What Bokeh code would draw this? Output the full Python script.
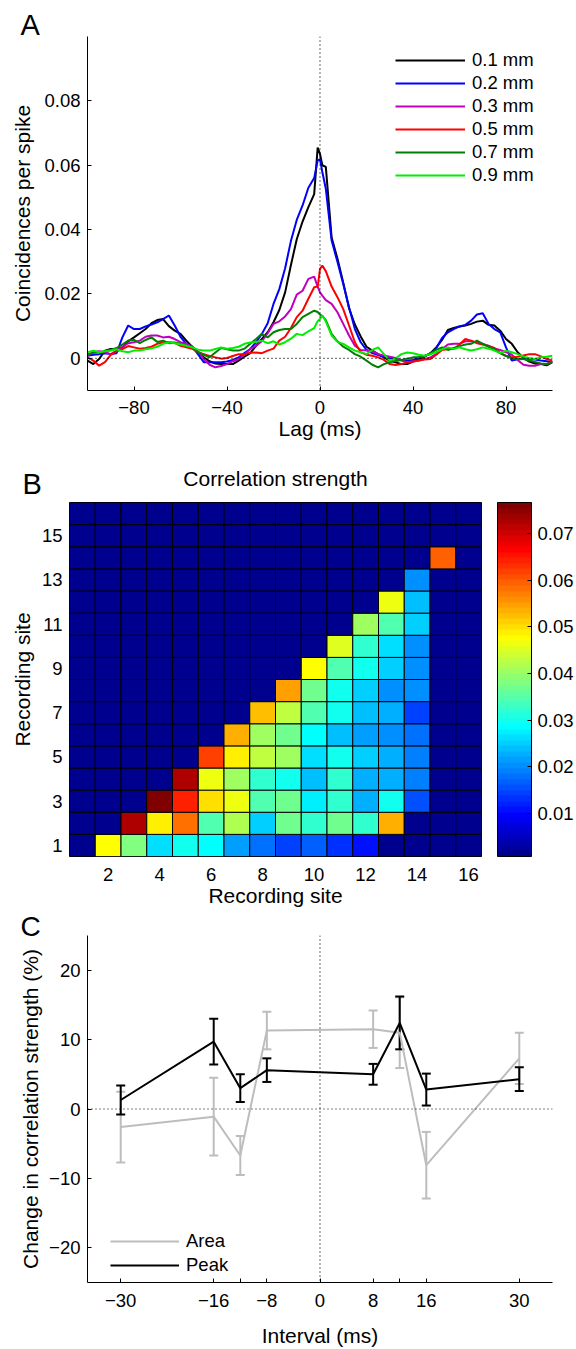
import numpy as np
from bokeh.plotting import figure
from bokeh.models import (ColumnDataSource, Range1d, FixedTicker, Legend, LegendItem, Span, Title,
                          LinearColorMapper, ColorBar, Whisker, TeeHead)
from bokeh.transform import transform
from bokeh.embed import file_html
from bokeh.resources import INLINE

FONT = "Liberation Sans"
TICK = "18.5px"
LABEL = "21px"

# ---------------- Panel A data ----------------
lag_ms = [-100, -97.5, -95, -92.5, -90, -87.5, -85, -82.5, -80, -77.5, -75, -72.5, -70, -67.5, -65, -62.5,
          -60, -57.5, -55, -52.5, -50, -47.5, -45, -42.5, -40, -37.5, -35, -32.5, -30, -27.5, -25, -22.5,
          -20, -17.5, -15, -12.5, -10, -7.5, -5, -2.5, -1, 0, 1, 2.5, 5, 7.5, 10, 12.5, 15, 17.5, 20, 22.5,
          25, 27.5, 30, 32.5, 35, 37.5, 40, 42.5, 45, 47.5, 50, 52.5, 55, 57.5, 60, 62.5, 65, 67.5, 70,
          72.5, 75, 77.5, 80, 82.5, 85, 87.5, 90, 92.5, 95, 97.5, 100]

ccg_01 = [-0.0007, -0.0018, -0.0002, 0.0024, 0.0029, 0.0029, 0.0034, 0.0053, 0.0065, 0.0078, 0.0091, 0.0109,
          0.0119, 0.0122, 0.0100, 0.0086, 0.0076, 0.0055, 0.0036, 0.0019, 0.0003, -0.0009, -0.0016, -0.0018,
          -0.0018, -0.0018, -0.0007, 0.0005, 0.0016, 0.0039, 0.0060, 0.0081, 0.0112, 0.0150, 0.0205, 0.0290,
          0.0370, 0.0425, 0.0470, 0.0510, 0.0655, 0.0635, 0.0600, 0.0595, 0.0375, 0.0310, 0.0235, 0.0155,
          0.0105, 0.0068, 0.0036, 0.0024, 0.0013, 0.0003, -0.0007, -0.0012, -0.0018, -0.0018, -0.0010,
          -0.0002, 0.0005, 0.0016, 0.0034, 0.0057, 0.0088, 0.0094, 0.0099, 0.0102, 0.0107, 0.0114, 0.0117,
          0.0104, 0.0102, 0.0086, 0.0060, 0.0045, 0.0019, 0.0001, -0.0010, -0.0016, -0.0018, -0.0022, -0.0012]

ccg_02 = [0.0008, 0.0011, 0.0013, 0.0016, 0.0013, 0.0016, 0.0065, 0.0102, 0.0091, 0.0091, 0.0099, 0.0105,
          0.0112, 0.0122, 0.0133, 0.0102, 0.0067, 0.0045, 0.0036, 0.0013, -0.0012, -0.0012, -0.0012, -0.0012,
          -0.0010, -0.0005, 0.0003, 0.0016, 0.0029, 0.0050, 0.0076, 0.0109, 0.0169, 0.0215, 0.0280, 0.0365,
          0.0430, 0.0475, 0.0530, 0.0560, 0.0615, 0.0619, 0.0579, 0.0527, 0.0366, 0.0300, 0.0231, 0.0159,
          0.0091, 0.0050, 0.0026, 0.0016, 0.0010, 0.0005, 0.0001, -0.0002, -0.0005, -0.0007, -0.0005,
          0.0003, 0.0008, 0.0013, 0.0031, 0.0063, 0.0081, 0.0091, 0.0099, 0.0104, 0.0117, 0.0136, 0.0140,
          0.0107, 0.0091, 0.0081, 0.0034, -0.0007, -0.0003, -0.0002, -0.0002, -0.0004, -0.0007, -0.0009, -0.0012]

ccg_03 = [0.0008, 0.0019, 0.0022, 0.0019, 0.0013, 0.0024, 0.0036, 0.0047, 0.0050, 0.0055, 0.0067, 0.0071,
          0.0071, 0.0065, 0.0067, 0.0060, 0.0050, 0.0045, 0.0036, 0.0022, -0.0002, -0.0020, -0.0028, -0.0024,
          -0.0018, -0.0009, -0.0002, 0.0011, 0.0029, 0.0039, 0.0053, 0.0078, 0.0107, 0.0115, 0.0130, 0.0153,
          0.0198, 0.0210, 0.0247, 0.0254, 0.0223, 0.0205, 0.0195, 0.0181, 0.0169, 0.0143, 0.0107, 0.0071,
          0.0039, 0.0026, 0.0024, 0.0022, 0.0013, 0.0009, 0.0005, 0.0001, -0.0007, -0.0012, -0.0010,
          -0.0007, -0.0002, 0.0003, 0.0013, 0.0029, 0.0043, 0.0045, 0.0045, 0.0053, 0.0053, 0.0049, 0.0045,
          0.0039, 0.0031, 0.0026, 0.0019, 0.0011, -0.0005, -0.0020, -0.0023, -0.0023, -0.0018, -0.0018, -0.0009]

ccg_05 = [0.0003, -0.0007, -0.0023, -0.0012, 0.0011, 0.0022, 0.0029, 0.0038, 0.0034, 0.0030, 0.0032, 0.0036,
          0.0045, 0.0050, 0.0051, 0.0048, 0.0039, 0.0034, 0.0030, 0.0019, 0.0013, 0.0007, 0.0003, -0.0001,
          0.0001, 0.0007, 0.0013, 0.0013, 0.0017, 0.0018, 0.0016, 0.0024, 0.0030, 0.0055, 0.0067, 0.0094,
          0.0128, 0.0148, 0.0185, 0.0221, 0.0223, 0.0278, 0.0288, 0.0271, 0.0223, 0.0190, 0.0153, 0.0102,
          0.0050, 0.0019, 0.0011, 0.0008, 0.0003, -0.0005, -0.0018, -0.0021, -0.0018, -0.0013, -0.0010,
          -0.0007, -0.0004, -0.0002, 0.0011, 0.0026, 0.0029, 0.0029, 0.0043, 0.0060, 0.0055, 0.0047, 0.0043,
          0.0038, 0.0032, 0.0016, 0.0008, 0.0003, 0.0005, 0.0009, 0.0013, 0.0013, 0.0006, -0.0002, -0.0007]

ccg_07 = [0.0013, 0.0017, 0.0019, 0.0022, 0.0026, 0.0032, 0.0043, 0.0055, 0.0057, 0.0047, 0.0057, 0.0065,
          0.0051, 0.0055, 0.0047, 0.0049, 0.0045, 0.0039, 0.0035, 0.0019, 0.0011, 0.0003, 0.0018, 0.0032,
          0.0028, 0.0024, 0.0024, 0.0030, 0.0045, 0.0060, 0.0076, 0.0065, 0.0081, 0.0088, 0.0091, 0.0091,
          0.0107, 0.0128, 0.0138, 0.0148, 0.0144, 0.0136, 0.0132, 0.0119, 0.0076, 0.0053, 0.0036, 0.0026,
          0.0013, 0.0005, -0.0007, -0.0020, -0.0028, -0.0018, -0.0012, -0.0008, -0.0005, -0.0001, 0.0003,
          0.0003, 0.0007, 0.0016, 0.0026, 0.0034, 0.0026, 0.0032, 0.0038, 0.0043, 0.0045, 0.0055, 0.0045,
          0.0036, 0.0029, 0.0016, 0.0007, 0.0001, -0.0002, -0.0002, -0.0007, -0.0011, -0.0016, -0.0018, -0.0012]

ccg_09 = [0.0019, 0.0024, 0.0019, 0.0022, 0.0024, 0.0028, 0.0022, 0.0019, 0.0024, 0.0024, 0.0028, 0.0031,
          0.0036, 0.0045, 0.0050, 0.0047, 0.0043, 0.0039, 0.0034, 0.0027, 0.0024, 0.0024, 0.0029, 0.0034,
          0.0030, 0.0032, 0.0036, 0.0045, 0.0049, 0.0051, 0.0055, 0.0047, 0.0053, 0.0043, 0.0050, 0.0061,
          0.0076, 0.0072, 0.0084, 0.0094, 0.0115, 0.0122, 0.0133, 0.0115, 0.0071, 0.0051, 0.0045, 0.0034,
          0.0024, 0.0019, 0.0013, 0.0026, 0.0034, 0.0013, -0.0007, -0.0001, 0.0013, 0.0018, 0.0016, 0.0011,
          0.0008, 0.0013, 0.0019, 0.0028, 0.0034, 0.0029, 0.0034, 0.0028, 0.0024, 0.0028, 0.0034, 0.0030,
          0.0024, 0.0016, 0.0024, 0.0019, 0.0013, 0.0005, 0.0001, -0.0002, 0.0003, 0.0005, 0.0008]

dist_labels = ["0.1 mm", "0.2 mm", "0.3 mm", "0.5 mm", "0.7 mm", "0.9 mm"]
dist_colors = ["#000000", "#0000ff", "#bf00bf", "#ff0000", "#008000", "#00ee00"]
ccg_series = [ccg_01, ccg_02, ccg_03, ccg_05, ccg_07, ccg_09]
a_xticks = [-80, -40, 0, 40, 80]
a_yticks = [0, 0.02, 0.04, 0.06, 0.08]

# ---------------- Panel B data ----------------
BG = 0.0007
corr_rows = [  # row index = recording site (y) 1..16, columns = recording site (x) 1..16
    [BG, 0.0471, 0.0376, 0.0265, 0.0292, 0.0281, 0.0220, 0.0174, 0.0144, 0.0167, 0.0129, 0.0102, BG, BG, BG, BG],
    [BG, BG, 0.0720, 0.0482, 0.0577, 0.0351, 0.0417, 0.0254, 0.0364, 0.0316, 0.0364, 0.0316, 0.0531, BG, BG, BG],
    [BG, BG, BG, 0.0767, 0.0648, 0.0505, 0.0459, 0.0351, 0.0364, 0.0275, 0.0316, 0.0227, 0.0292, 0.0159, BG, BG],
    [BG, BG, BG, BG, 0.0720, 0.0459, 0.0410, 0.0316, 0.0292, 0.0239, 0.0316, 0.0227, 0.0227, 0.0186, BG, BG],
    [BG, BG, BG, BG, BG, 0.0613, 0.0482, 0.0423, 0.0410, 0.0265, 0.0303, 0.0254, 0.0227, 0.0186, BG, BG],
    [BG, BG, BG, BG, BG, BG, 0.0541, 0.0410, 0.0368, 0.0281, 0.0235, 0.0212, 0.0197, 0.0174, BG, BG],
    [BG, BG, BG, BG, BG, BG, BG, 0.0520, 0.0423, 0.0341, 0.0303, 0.0239, 0.0227, 0.0140, BG, BG],
    [BG, BG, BG, BG, BG, BG, BG, BG, 0.0547, 0.0368, 0.0303, 0.0254, 0.0205, 0.0208, BG, BG],
    [BG, BG, BG, BG, BG, BG, BG, BG, BG, 0.0471, 0.0341, 0.0292, 0.0250, 0.0197, BG, BG],
    [BG, BG, BG, BG, BG, BG, BG, BG, BG, BG, 0.0450, 0.0316, 0.0265, 0.0197, BG, BG],
    [BG, BG, BG, BG, BG, BG, BG, BG, BG, BG, BG, 0.0410, 0.0341, 0.0254, BG, BG],
    [BG, BG, BG, BG, BG, BG, BG, BG, BG, BG, BG, BG, 0.0459, 0.0235, BG, BG],
    [BG, BG, BG, BG, BG, BG, BG, BG, BG, BG, BG, BG, BG, 0.0208, BG, BG],
    [BG, BG, BG, BG, BG, BG, BG, BG, BG, BG, BG, BG, BG, BG, 0.0600, BG],
    [BG] * 16,
    [BG] * 16,
]
b_xticks = [2, 4, 6, 8, 10, 12, 14, 16]
b_yticks = [1, 3, 5, 7, 9, 11, 13, 15]
cbar_ticks = [0.01, 0.02, 0.03, 0.04, 0.05, 0.06, 0.07]

# ---------------- Panel C data ----------------
interval_ms = [-30, -16, -12, -8, 8, 12, 16, 30]
peak_mean = [1.3, 9.7, 3.0, 5.6, 5.0, 12.4, 2.8, 4.3]
peak_sem = [2.1, 3.3, 2.0, 1.7, 1.5, 3.8, 2.3, 1.7]
area_mean = [-2.6, -1.1, -6.7, 11.3, 11.5, 11.0, -8.1, 7.3]
area_sem = [5.1, 5.6, 2.8, 2.7, 2.7, 5.1, 4.8, 3.7]
c_xticks = [-30, -16, -12, -8, 0, 8, 12, 16, 30]
c_yticks = [-20, -10, 0, 10, 20]


def jet(m=64):
    n = int(np.ceil(m / 4))
    u = np.concatenate([np.arange(1, n + 1) / n, np.ones(n - 1), np.arange(n, 0, -1) / n])
    g = int(np.ceil(n / 2)) - (1 if m % 4 == 1 else 0) + np.arange(1, len(u) + 1)
    r = g + n
    b = g - n
    J = np.zeros((m, 3))
    for ch, idxs in enumerate([r, g, b]):
        for i, val in zip(idxs, u):
            if 1 <= i <= m:
                J[i - 1, ch] = val
    return ["#%02x%02x%02x" % tuple(int(round(c * 255)) for c in row) for row in J]


def style_axes(p, x_standoff, xlabel_standoff, y_standoff, ylabel_standoff, show_lines=True):
    p.xgrid.visible = False
    p.ygrid.visible = False
    for ax, st, lst in ((p.xaxis[0], x_standoff, xlabel_standoff), (p.yaxis[0], y_standoff, ylabel_standoff)):
        ax.axis_line_color = "black" if show_lines else None
        ax.axis_line_width = 1
        ax.major_tick_line_color = "black" if show_lines else None
        ax.major_tick_in = 4
        ax.major_tick_out = 0
        ax.minor_tick_line_color = None
        ax.major_label_text_font = FONT
        ax.major_label_text_font_size = TICK
        ax.major_label_text_color = "black"
        ax.major_label_standoff = st
        ax.axis_label_text_font = FONT
        ax.axis_label_text_font_size = LABEL
        ax.axis_label_text_font_style = "normal"
        ax.axis_label_text_color = "black"
        ax.axis_label_standoff = lst


def letter_title(text, offset, standoff, size="29px"):
    return Title(text=text, align="left", offset=offset, standoff=standoff, text_font=FONT,
                 text_font_size=size, text_font_style="normal", text_color="black")


def dotted(p):
    p.add_layout(Span(location=0, dimension="height", line_color="black", line_dash="1 3", line_width=1.2))
    p.add_layout(Span(location=0, dimension="width", line_color="black", line_dash="1 3", line_width=1.2))


# ================= Panel A =================
pA = figure(width=576, height=445, x_range=Range1d(-100, 100), y_range=Range1d(-0.01, 0.1),
            output_backend="svg", toolbar_location=None, min_border_left=87, min_border_right=24,
            min_border_top=36, min_border_bottom=55, outline_line_color=None,
            x_axis_label="Lag (ms)", y_axis_label="Coincidences per spike",
            title=letter_title("A", -67, -8))
style_axes(pA, 10, 0, 7, 7)
pA.xaxis[0].ticker = FixedTicker(ticks=a_xticks)
pA.yaxis[0].ticker = FixedTicker(ticks=a_yticks)
pA.yaxis[0].major_label_overrides = {0: "0"}
dotted(pA)
items = []
for lbl, col, ser in zip(dist_labels, dist_colors, ccg_series):
    src = ColumnDataSource(dict(lag=lag_ms, v=ser))
    r = pA.line("lag", "v", source=src, line_color=col, line_width=2)
    items.append(LegendItem(label=lbl, renderers=[r]))
legA = Legend(items=items, location=(308, 204), glyph_width=70, glyph_height=22, label_height=22,
              spacing=1, padding=0, margin=0, label_standoff=7, border_line_color=None,
              background_fill_alpha=0, label_text_font=FONT, label_text_font_size=TICK,
              label_text_color="black")
pA.add_layout(legA)

# ================= Panel B =================
all_vals = [v for row in corr_rows for v in row]
mapper = LinearColorMapper(palette=jet(64), low=min(all_vals), high=max(all_vals))
sx, sy, sv = [], [], []
for yi, row in enumerate(corr_rows):
    for xi, v in enumerate(row):
        sx.append(xi + 1)
        sy.append(yi + 1)
        sv.append(v)
srcB = ColumnDataSource(dict(sx=sx, sy=sy, v=sv))

pB = figure(width=576, height=467, x_range=Range1d(0.5, 16.5), y_range=Range1d(0.5, 16.5),
            output_backend="svg", toolbar_location=None, min_border_left=69, min_border_right=94,
            min_border_top=57, min_border_bottom=56, outline_line_color="black", outline_line_width=1,
            x_axis_label="Recording site", y_axis_label="Recording site",
            title=Title(text="Correlation strength", align="center", standoff=-54, text_font=FONT,
                        text_font_size=LABEL, text_font_style="normal", text_color="black"))
pB.add_layout(letter_title("B", -47, 6), "above")
style_axes(pB, 11, 0, 7, 5, show_lines=False)
pB.xaxis[0].ticker = FixedTicker(ticks=b_xticks)
pB.yaxis[0].ticker = FixedTicker(ticks=b_yticks)
pB.rect("sx", "sy", width=1, height=1, source=srcB, fill_color=transform("v", mapper),
        line_color="black", line_width=1)
cbar = ColorBar(color_mapper=mapper, ticker=FixedTicker(ticks=cbar_ticks), width=34, height=354,
                padding=0, margin=0, label_standoff=6, major_tick_in=4, major_tick_out=0,
                major_tick_line_color="black", bar_line_color="black", border_line_color=None,
                background_fill_alpha=0, major_label_text_font=FONT, major_label_text_font_size=TICK,
                major_label_text_color="black", location=(16, 0))
pB.add_layout(cbar, "right")

# ================= Panel C =================
peak_lo = [m - s for m, s in zip(peak_mean, peak_sem)]
peak_hi = [m + s for m, s in zip(peak_mean, peak_sem)]
area_lo = [m - s for m, s in zip(area_mean, area_sem)]
area_hi = [m + s for m, s in zip(area_mean, area_sem)]
srcC = ColumnDataSource(dict(x=interval_ms, peak=peak_mean, plo=peak_lo, phi=peak_hi,
                             area=area_mean, alo=area_lo, ahi=area_hi))

pC = figure(width=576, height=437, x_range=Range1d(-35, 35), y_range=Range1d(-25, 25),
            output_backend="svg", toolbar_location=None, min_border_left=87, min_border_right=24,
            min_border_top=23, min_border_bottom=60, outline_line_color=None,
            x_axis_label="Interval (ms)", y_axis_label="Change in correlation strength (%)",
            title=letter_title("C", -67, -13, "28px"))
style_axes(pC, 11, 14, 7, 4)
pC.xaxis[0].ticker = FixedTicker(ticks=c_xticks)
pC.xaxis[0].major_label_overrides = {-12: "", 12: ""}
pC.yaxis[0].ticker = FixedTicker(ticks=c_yticks)
dotted(pC)
GRAY = "#bdbdbd"
wa = Whisker(base="x", upper="ahi", lower="alo", source=srcC, line_color=GRAY, line_width=2, level="underlay",
             upper_head=TeeHead(size=9, line_color=GRAY, line_width=2),
             lower_head=TeeHead(size=9, line_color=GRAY, line_width=2))
pC.add_layout(wa)
ra = pC.line("x", "area", source=srcC, line_color=GRAY, line_width=2)
rp = pC.line("x", "peak", source=srcC, line_color="black", line_width=2)
wp = Whisker(base="x", upper="phi", lower="plo", source=srcC, line_color="black", line_width=2,
             upper_head=TeeHead(size=9, line_color="black", line_width=2),
             lower_head=TeeHead(size=9, line_color="black", line_width=2))
pC.add_layout(wp)
legC = Legend(items=[LegendItem(label="Area", renderers=[ra]), LegendItem(label="Peak", renderers=[rp])],
              location=(23, 6), glyph_width=69, glyph_height=22, label_height=22, spacing=2, padding=0,
              margin=0, label_standoff=7, border_line_color=None, background_fill_alpha=0,
              label_text_font=FONT, label_text_font_size=TICK, label_text_color="black")
pC.add_layout(legC)

open("out.html", "w").write(file_html([pA, pB, pC], INLINE))
